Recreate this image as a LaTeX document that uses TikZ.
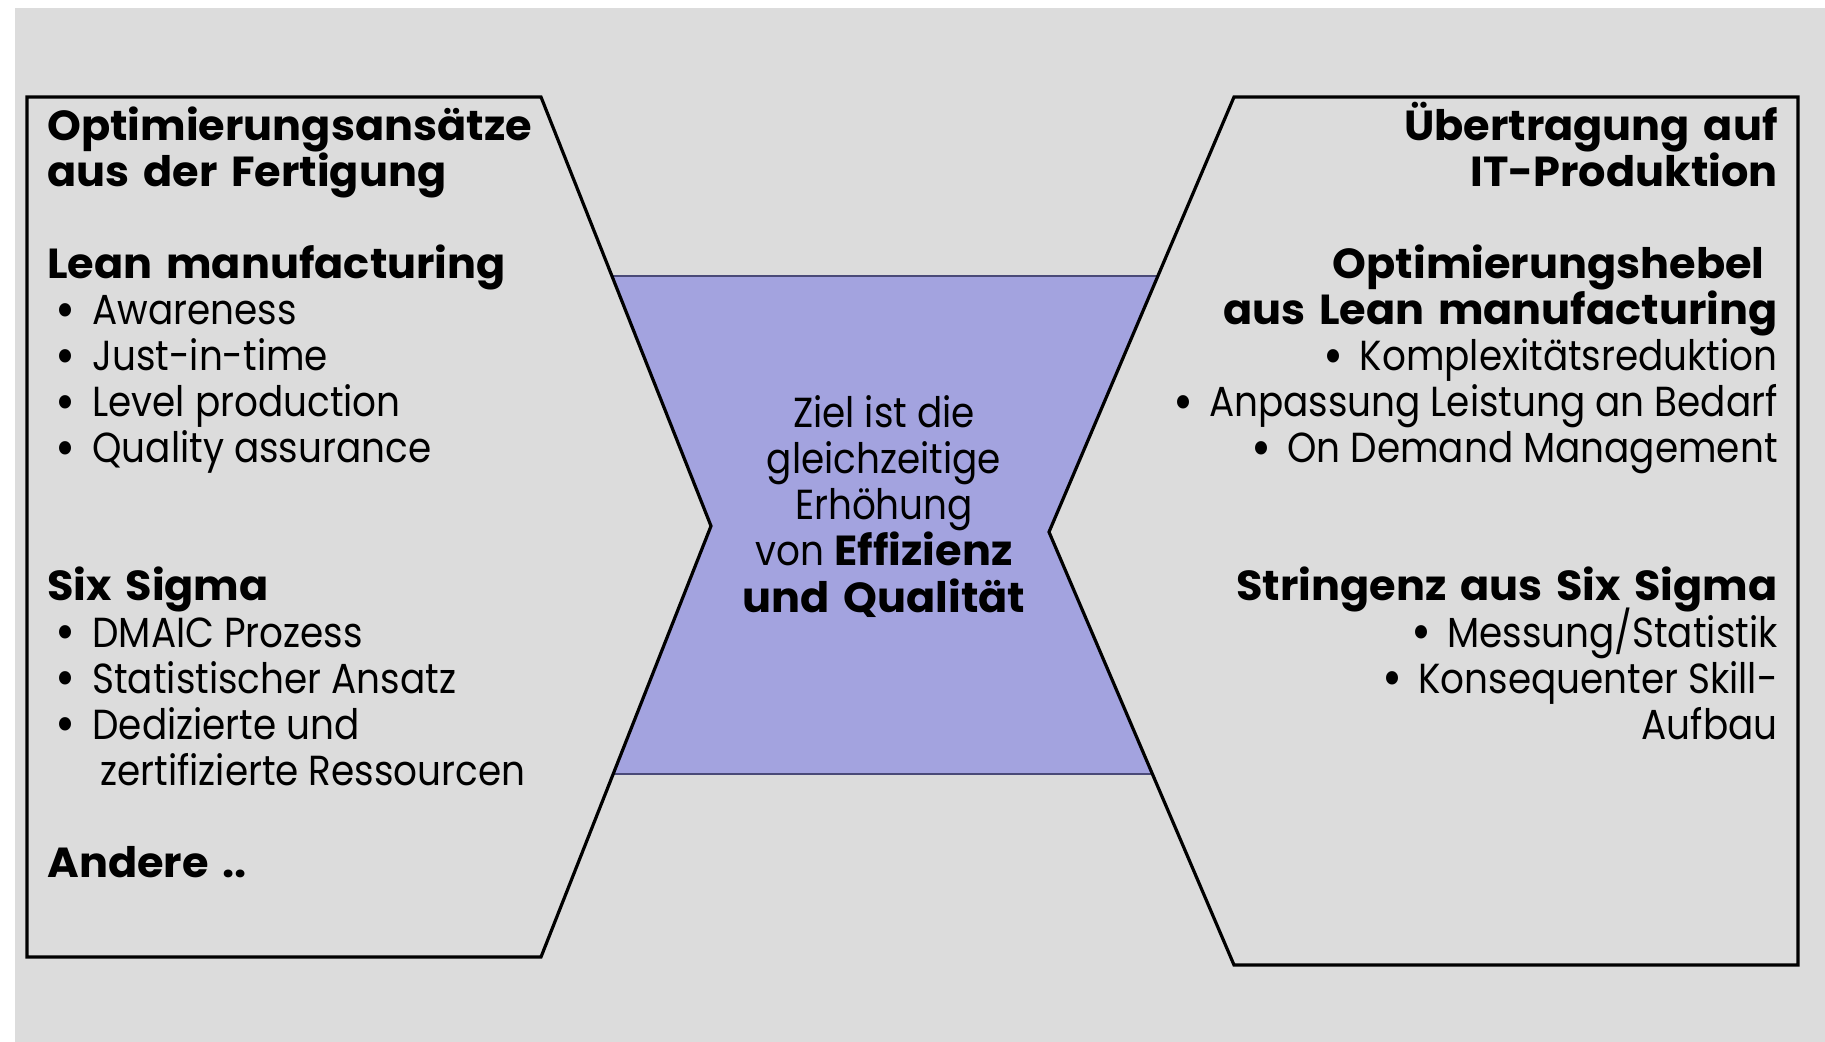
\documentclass[tikz,border=0pt]{standalone}
\usepackage{fontspec}
\setmainfont{Poppins}[FakeStretch=0.89]
\newfontfamily\hvy{Poppins}[FakeStretch=1.025, WordSpace=1.5]
\definecolor{bgc}{HTML}{DCDCDC}
\definecolor{purp}{HTML}{A3A3DF}
\definecolor{purpline}{HTML}{4A4A78}
\tikzset{
  x=0.5pt, y=-0.5pt,
  txt/.style={inner sep=0pt, font=\fontsize{21}{23}\selectfont},
  lt/.style={txt, anchor=base west},
  rt/.style={txt, anchor=base east},
  ct/.style={txt, anchor=base},
  outline/.style={draw=black, line width=1.6pt, line join=miter},
}
\newcommand{\hd}[1]{{\hvy\bfseries #1}}
\newcommand{\bigbul}{\smash{\raisebox{-1.6pt}{\scalebox{1.3}{•}}}}
\newcommand{\bul}{\makebox[18.5pt][l]{\bigbul}}
\newcommand{\rbul}{\bigbul\hspace{8pt}}
\begin{document}
\begin{tikzpicture}
\useasboundingbox (0,0) rectangle (1825,1042);
\fill[white] (0,0) rectangle (1825,1042);
\fill[bgc] (15,8) rectangle (1825,1042);
% centre band
\fill[purp] (612,276) -- (1158,276) -- (1049,532) -- (1152,774) -- (613,774) -- (711,526) -- cycle;
\draw[purpline, line width=0.6pt] (612,276) -- (1158,276);
\draw[purpline, line width=0.6pt] (613,774) -- (1152,774);
% outlines
\draw[outline] (27,97) -- (541,97) -- (711,526) -- (541,957) -- (27,957) -- cycle;
\draw[outline] (1234,97) -- (1798,97) -- (1798,965) -- (1234,965) -- (1049,532) -- cycle;
% left texts
\node[lt] (l1) at (47,141) {\hd{Optimierungsansätze}};
\node[lt] (l2) at (47,187) {\hd{aus der Fertigung}};
\node[lt] (l3) at (47,279) {\hd{Lean manufacturing}};
\node[lt] (l4) at (55,325) {\bul Awareness};
\node[lt] (l5) at (55,371) {\bul Just-in-time};
\node[lt] (l6) at (55,417) {\bul Level production};
\node[lt] (l7) at (55,463) {\bul Quality assurance};
\node[lt] (l8) at (47,601) {\hd{Six Sigma}};
\node[lt] (l9) at (55,647) {\bul DMAIC Prozess};
\node[lt] (l10) at (55,693) {\bul Statistischer Ansatz};
\node[lt] (l11) at (55,739) {\bul Dedizierte und};
\node[lt] (l12) at (100,785) {zertifizierte Ressourcen};
\node[lt] (l13) at (47,877) {\hd{Andere ..}};
% right texts
\node[rt] (r1) at (1778,141) {\hd{Übertragung auf}};
\node[rt] (r2) at (1778,187) {\hd{IT-Produktion}};
\node[rt] (r3) at (1765,279) {\hd{Optimierungshebel}};
\node[rt] (r4) at (1778,325) {\hd{aus Lean manufacturing}};
\node[rt] (r5) at (1778,371) {\rbul Komplexitätsreduktion};
\node[rt] (r6) at (1778,417) {\rbul Anpassung Leistung an Bedarf};
\node[rt] (r7) at (1778,463) {\rbul On Demand Management};
\node[rt] (r8) at (1778,601) {\hd{Stringenz aus Six Sigma}};
\node[rt] (r9) at (1778,647) {\rbul Messung/Statistik};
\node[rt] (r10) at (1778,693) {\rbul Konsequenter Skill-};
\node[rt] (r11) at (1778,739) {Aufbau};
% centre texts
\node[ct] (c1) at (884,428) {Ziel ist die};
\node[ct] (c2) at (884,474) {gleichzeitige};
\node[ct] (c3) at (884,520) {Erhöhung};
\node[ct] (c4) at (884,566) {von \hd{Effizienz}};
\node[ct] (c5) at (884,612) {\hd{und Qualität}};
\end{tikzpicture}
\end{document}
